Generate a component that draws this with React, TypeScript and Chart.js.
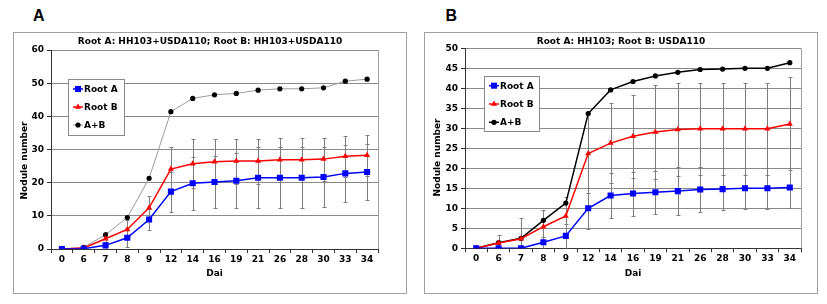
import React, { useEffect, useRef } from 'react';
import { Chart, registerables } from 'chart.js';
Chart.register(...registerables);

// ---------- data ----------
const days = ['0', '6', '7', '8', '9', '12', '14', '16', '19', '21', '26', '28', '30', '33', '34'];
const seriesLabels = ['Root A', 'Root B', 'A+B'];
const xTitle = 'Dai';
const yTitle = 'Nodule number';

const titleA = 'Root A: HH103+USDA110; Root B: HH103+USDA110';
const aRootA = [0, 0.1, 1.1, 3.4, 8.9, 17.3, 19.8, 20.2, 20.6, 21.5, 21.5, 21.5, 21.7, 22.8, 23.2];
const aRootB = [0, 0.3, 3.1, 5.9, 12.4, 24.1, 25.7, 26.3, 26.5, 26.5, 26.9, 26.9, 27.1, 28.0, 28.3];
const aSum = [0, 0.5, 4.3, 9.5, 21.3, 41.4, 45.4, 46.5, 46.9, 47.9, 48.3, 48.3, 48.6, 50.6, 51.2];
const aErrA = [0, 0.3, 1.0, 2.9, 3.2, 6.0, 8.0, 7.9, 8.3, 9.2, 9.2, 9.2, 9.1, 8.5, 8.4];
const aErrB = [0, 0.4, 2.1, 2.8, 3.7, 6.7, 7.4, 6.8, 6.8, 6.8, 6.7, 6.7, 6.5, 6.2, 6.2];
const aTicks = { min: 0, max: 60, step: 10 };

const titleB = 'Root A: HH103; Root B: USDA110';
const bRootA = [0, 0, 0, 1.5, 3.1, 10.0, 13.2, 13.7, 14.0, 14.3, 14.7, 14.8, 15.0, 15.0, 15.2];
const bRootB = [0, 1.3, 2.4, 5.4, 8.1, 23.7, 26.3, 28.0, 29.1, 29.7, 29.9, 29.9, 29.9, 29.9, 31.1];
const bSum = [0, 1.4, 2.5, 7.0, 11.3, 33.7, 39.6, 41.7, 43.1, 44.0, 44.7, 44.8, 45.0, 45.0, 46.4];
const bErrA = [0, 0, 0, 1.3, 3.0, 5.2, 5.7, 5.5, 5.3, 6.0, 5.7, 5.2, 5.2, 5.2, 5.0];
const bErrB = [0, 2.0, 5.2, 4.3, 4.8, 9.8, 10.0, 10.3, 11.7, 11.5, 11.5, 11.5, 11.5, 11.5, 11.6];
const bTicks = { min: 0, max: 50, step: 5 };

// ---------- styling ----------
const FONT = '"DejaVu Sans", Verdana, sans-serif';
const GRID = '#8a8a8a';
const AXIS = '#333333';

const errorBarPlugin = {
  id: 'errorBars',
  beforeDatasetsDraw(chart: any, _args: any, opts: any) {
    const { ctx, chartArea, scales } = chart;
    const xs = scales.x, ys = scales.y;
    ctx.save();
    ctx.beginPath();
    ctx.rect(chartArea.left, chartArea.top - 1, chartArea.width, chartArea.height + 1);
    ctx.clip();
    ctx.strokeStyle = opts.color || '#888';
    ctx.lineWidth = 1;
    (opts.errors || []).forEach((errs: number[] | null, i: number) => {
      if (!errs) return;
      const data = chart.data.datasets[i].data as number[];
      data.forEach((v, j) => {
        const e = errs[j];
        if (!e) return;
        const px = Math.round(xs.getPixelForValue(j)) + 0.5;
        const top = Math.round(ys.getPixelForValue(v + e)) + 0.5;
        const bot = Math.round(ys.getPixelForValue(v - e)) + 0.5;
        ctx.beginPath();
        ctx.moveTo(px, top);
        ctx.lineTo(px, bot);
        ctx.moveTo(px - 2, top);
        ctx.lineTo(px + 2, top);
        ctx.moveTo(px - 2, bot);
        ctx.lineTo(px + 2, bot);
        ctx.stroke();
      });
    });
    ctx.restore();
  },
};

function drawMarker(ctx: CanvasRenderingContext2D, style: string, r: number, x: number, y: number, color: string) {
  ctx.fillStyle = color;
  ctx.beginPath();
  if (style === 'rect') {
    const s = r * Math.SQRT1_2;
    ctx.rect(x - s, y - s, 2 * s, 2 * s);
  } else if (style === 'triangle') {
    ctx.moveTo(x, y - r);
    ctx.lineTo(x + r * 0.866, y + r * 0.5);
    ctx.lineTo(x - r * 0.866, y + r * 0.5);
    ctx.closePath();
  } else {
    ctx.arc(x, y, r, 0, Math.PI * 2);
  }
  ctx.fill();
}

const boxLegendPlugin = {
  id: 'boxLegend',
  afterDraw(chart: any, _args: any, opts: any) {
    const { ctx, chartArea } = chart;
    ctx.save();
    // plot area right border
    ctx.strokeStyle = '#a0a0a0';
    ctx.lineWidth = 1;
    ctx.beginPath();
    const rx = Math.round(chartArea.right) + 0.5;
    ctx.moveTo(rx, chartArea.top);
    ctx.lineTo(rx, chartArea.bottom);
    ctx.stroke();

    // y axis title
    ctx.save();
    ctx.font = `bold 9px ${FONT}`;
    ctx.fillStyle = '#000';
    ctx.textAlign = 'center';
    ctx.textBaseline = 'middle';
    ctx.translate(opts.yTitleX, (chartArea.top + chartArea.bottom) / 2 + opts.yTitleDy);
    ctx.rotate(-Math.PI / 2);
    ctx.fillText(opts.yTitle, 0, 0);
    ctx.restore();

    // legend box
    const bx = chartArea.left + opts.dx;
    const by = chartArea.top + opts.dy;
    ctx.fillStyle = '#ffffff';
    ctx.fillRect(bx, by, opts.w, opts.h);
    ctx.strokeStyle = '#8a8a8a';
    ctx.lineWidth = 1;
    ctx.strokeRect(Math.round(bx) + 0.5, Math.round(by) + 0.5, opts.w, opts.h);
    ctx.font = `bold 9px ${FONT}`;
    ctx.textBaseline = 'middle';
    ctx.textAlign = 'left';
    chart.data.datasets.forEach((ds: any, i: number) => {
      const cy = by + opts.firstY + i * opts.rowH;
      const mx = bx + opts.markerX;
      ctx.strokeStyle = ds.borderColor;
      ctx.lineWidth = ds.borderWidth;
      ctx.beginPath();
      ctx.moveTo(mx - 5, cy);
      ctx.lineTo(mx + 5, cy);
      ctx.stroke();
      drawMarker(ctx, ds.pointStyle, ds.pointRadius, mx, cy, ds.pointBackgroundColor);
      ctx.fillStyle = '#000';
      ctx.fillText(ds.label, bx + opts.textX, cy + 0.5);
    });
    ctx.restore();
  },
};

interface PanelCfg {
  title: string;
  rootA: number[];
  rootB: number[];
  sum: number[];
  errA: number[];
  errB: number[];
  ticks: { min: number; max: number; step: number };
  sumColor: string;
  sumWidth: number;
  yWidth: number;
  xHeight: number;
  rightWidth: number;
  titlePad: { top: number; bottom: number };
  legend: any;
}

function Panel({ cfg }: { cfg: PanelCfg }) {
  const ref = useRef<HTMLCanvasElement>(null);
  useEffect(() => {
    if (!ref.current) return;
    const font = { family: FONT, size: 9, weight: 'bold' as const };
    const chart = new Chart(ref.current, {
      type: 'line',
      data: {
        labels: days,
        datasets: [
          {
            label: seriesLabels[0], data: cfg.rootA, borderColor: '#0000ff', backgroundColor: '#0000ff',
            borderWidth: 1.5, pointStyle: 'rect', pointRadius: 4.3, pointBackgroundColor: '#0000ff',
            pointBorderColor: '#0000ff', pointBorderWidth: 0, tension: 0, yAxisID: 'y',
          },
          {
            label: seriesLabels[1], data: cfg.rootB, borderColor: '#ff0000', backgroundColor: '#ff0000',
            borderWidth: 1.5, pointStyle: 'triangle', pointRadius: 3.5, pointBackgroundColor: '#ff0000',
            pointBorderColor: '#ff0000', pointBorderWidth: 0, tension: 0, yAxisID: 'y',
          },
          {
            label: seriesLabels[2], data: cfg.sum, borderColor: cfg.sumColor, backgroundColor: '#000',
            borderWidth: cfg.sumWidth, pointStyle: 'circle', pointRadius: 2.6, pointBackgroundColor: '#000',
            pointBorderColor: '#000', pointBorderWidth: 0, tension: 0, yAxisID: 'y',
          },
        ],
      },
      options: {
        animation: false,
        responsive: false,
        devicePixelRatio: 1,
        layout: { padding: 0 },
        plugins: {
          legend: { display: false },
          tooltip: { enabled: false },
          title: {
            display: true, text: cfg.title, color: '#000',
            font: { family: FONT, size: 9, weight: 'bold' }, padding: cfg.titlePad,
          },
          errorBars: { errors: [cfg.errA, cfg.errB, null], color: '#7d7d7d' },
          boxLegend: cfg.legend,
        } as any,
        scales: {
          x: {
            type: 'category',
            offset: true,
            grid: { offset: true, drawOnChartArea: false, drawTicks: true, tickLength: 4, color: AXIS, tickColor: AXIS },
            border: { color: AXIS, width: 1 },
            ticks: { font, color: '#000', padding: 1, maxRotation: 0, autoSkip: false },
            title: { display: true, text: xTitle, font, color: '#000', padding: { top: 0, bottom: 13.6 } },
            afterFit: (s: any) => { s.height = cfg.xHeight; },
          },
          y: {
            position: 'left',
            min: cfg.ticks.min, max: cfg.ticks.max,
            grid: { color: GRID, lineWidth: 1, tickLength: 4, tickColor: AXIS, drawTicks: true },
            border: { color: AXIS, width: 1 },
            ticks: { stepSize: cfg.ticks.step, font, color: '#000', padding: 3 },
            afterFit: (s: any) => { s.width = cfg.yWidth; },
          },
          yRight: {
            position: 'right',
            display: true,
            grid: { display: false },
            border: { display: false },
            ticks: { display: false },
            afterFit: (s: any) => { s.width = cfg.rightWidth; },
          },
        },
      },
      plugins: [errorBarPlugin, boxLegendPlugin],
    });
    return () => chart.destroy();
  }, [cfg]);
  return <canvas ref={ref} width={392} height={260} style={{ display: 'block', width: 392, height: 260 }} />;
}

const cfgA: PanelCfg = {
  title: titleA, rootA: aRootA, rootB: aRootB, sum: aSum, errA: aErrA, errB: aErrB, ticks: aTicks,
  sumColor: '#9a9a9a', sumWidth: 1, yWidth: 37, xHeight: 44, rightWidth: 28,
  titlePad: { top: 3.5, bottom: 2.7 },
  legend: { dx: 17, dy: 29, w: 56, h: 56, firstY: 10, rowH: 18, markerX: 10, textX: 16, yTitle, yTitleX: 10.5, yTitleDy: 11 },
};
const cfgB: PanelCfg = {
  title: titleB, rootA: bRootA, rootB: bRootB, sum: bSum, errA: bErrA, errB: bErrB, ticks: bTicks,
  sumColor: '#000000', sumWidth: 1.5, yWidth: 40, xHeight: 44.7, rightWidth: 16,
  titlePad: { top: 3.5, bottom: 1 },
  legend: { dx: 19, dy: 27.7, w: 55, h: 55, firstY: 9.7, rowH: 18.3, markerX: 10, textX: 16, yTitle, yTitleX: 12.3, yTitleDy: 9.2 },
};

const letterStyle: React.CSSProperties = {
  position: 'absolute', top: 7.5, font: 'bold 16px "Liberation Sans", Arial, sans-serif',
  lineHeight: '16px', color: '#000',
};
const panelStyle: React.CSSProperties = {
  position: 'absolute', top: 32, width: 394, height: 262, border: '1px solid #a0a0a0',
  boxSizing: 'border-box', background: '#fff',
};

export default function App() {
  return (
    <div style={{ position: 'absolute', left: 0, top: 0, width: 827, height: 304, background: '#fff', overflow: 'hidden' }}>
      <div style={{ ...letterStyle, left: 33 }}>A</div>
      <div style={{ ...panelStyle, left: 13 }}>
        <Panel cfg={cfgA} />
      </div>
      <div style={{ ...letterStyle, left: 445.5 }}>B</div>
      <div style={{ ...panelStyle, left: 424 }}>
        <Panel cfg={cfgB} />
      </div>
    </div>
  );
}
